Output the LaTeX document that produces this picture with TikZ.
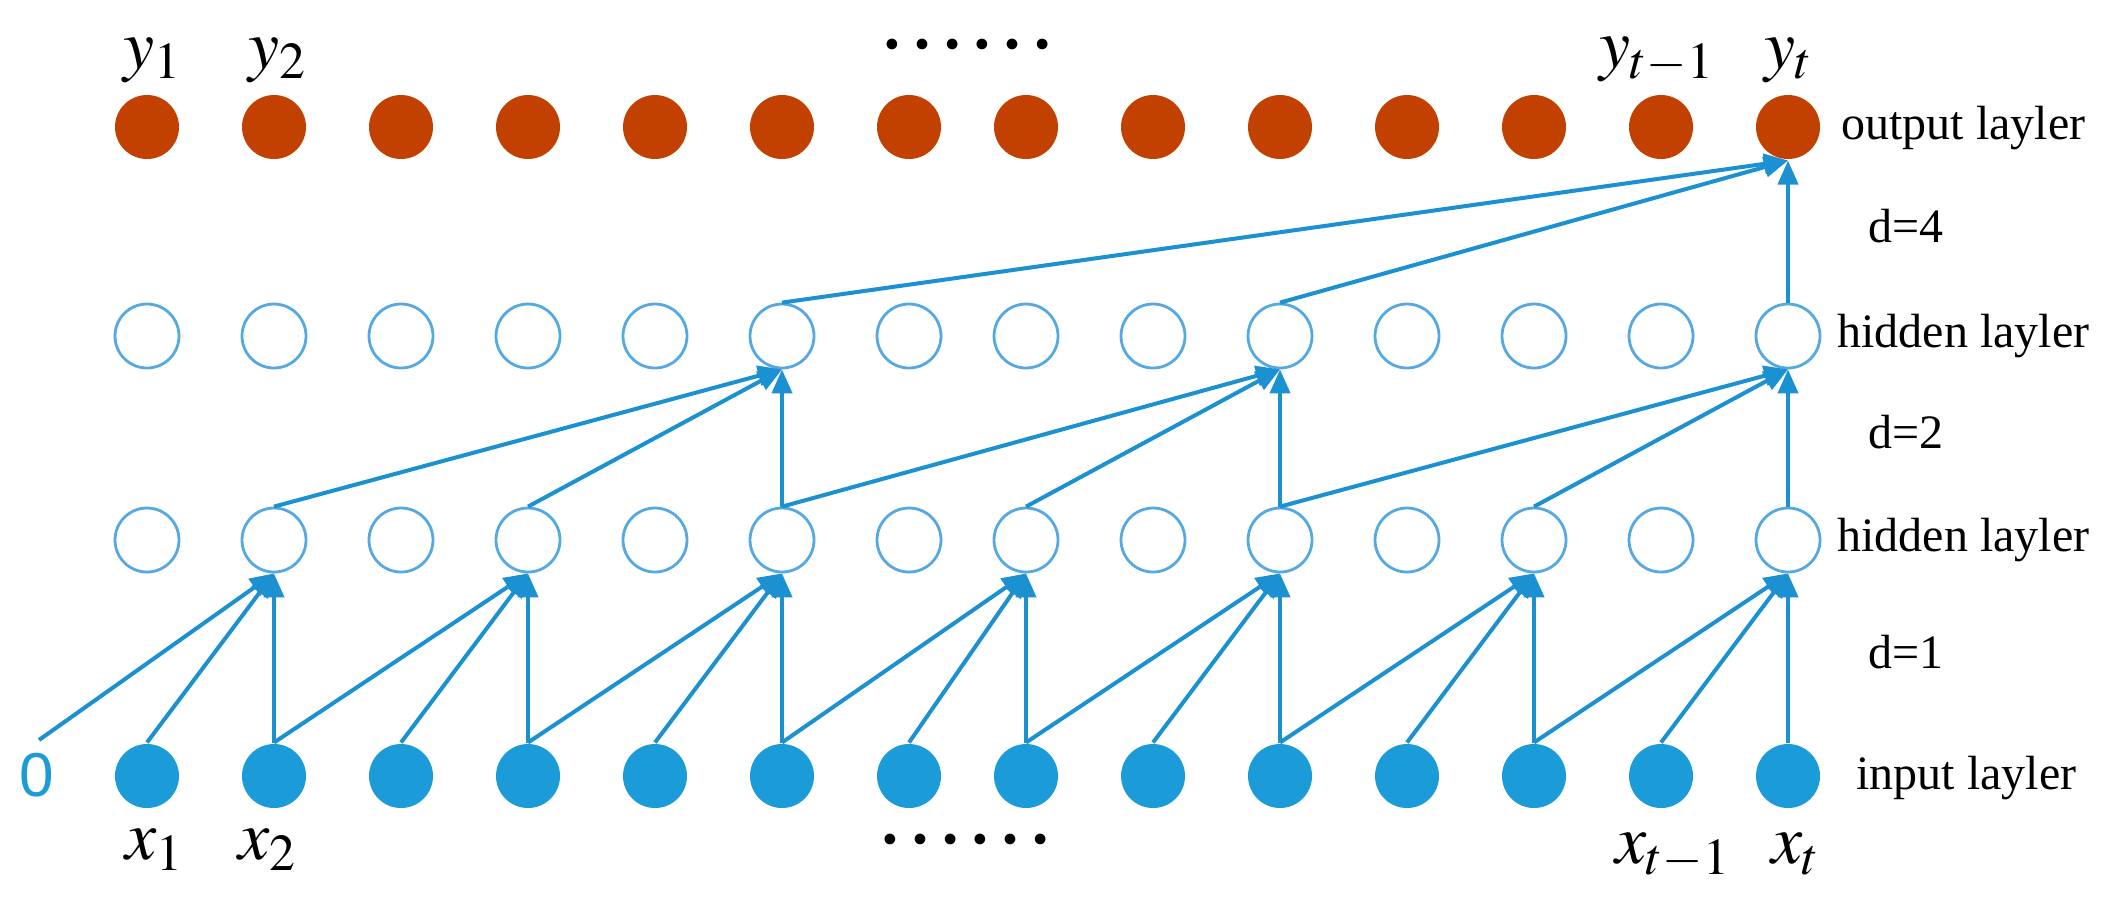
\documentclass[tikz,border=0pt]{standalone}
\usepackage{mathptmx}
\usepackage{fontspec}
\setmainfont{Liberation Serif}
\newfontfamily\zerofont{Liberation Sans}
\usetikzlibrary{arrows.meta}

\definecolor{outred}{RGB}{195,65,0}
\definecolor{inblue}{RGB}{27,155,215}
\definecolor{hidblue}{RGB}{85,168,225}
\definecolor{linkblue}{RGB}{28,145,210}

\tikzset{every picture/.style={line width=0.75pt}}

\begin{document}
\begin{tikzpicture}[x=0.25pt,y=0.25pt,yscale=-1,xscale=1,
  unit/.style={circle,minimum size=16pt,inner sep=0pt},
  outunit/.style={unit,fill=outred},
  inunit/.style={unit,fill=inblue},
  hidunit/.style={unit,draw=hidblue,line width=0.7pt,fill=white},
  link/.style={draw=linkblue,line width=1pt,-{Triangle[length=6pt,width=5pt]}},
  mathlab/.style={inner sep=0pt,font=\fontsize{17.5}{20}\selectfont},
  layerlab/.style={inner sep=0pt,anchor=west,font=\fontsize{12}{14}\selectfont},
  dlab/.style={inner sep=0pt,font=\fontsize{12}{14}\selectfont},
  dotlab/.style={inner sep=0pt,font=\fontsize{22.5}{24}\selectfont}]
\useasboundingbox (0,0) rectangle (2106,913);

% Units of the four layers
\foreach \i/\x in {1/147,2/274,3/401,4/528,5/655,6/782,7/909,8/1026,9/1153,10/1280,11/1407,12/1534,13/1661,14/1788} {
  \node[outunit] (out\i) at (\x,127) {};
  \node[hidunit] (hB\i) at (\x,336) {};
  \node[hidunit] (hA\i) at (\x,540) {};
  \node[inunit] (in\i) at (\x,776) {};
}

% Padding input
\node[text=inblue,inner sep=0pt,font=\zerofont\fontsize{15.5}{18}\selectfont] (zero) at (37,775) {0};
\coordinate (zerotop) at (39,740);

% d=1
\draw[link] (zerotop) -- (hA2.south);
\foreach \j in {2,4,...,14} {
  \pgfmathtruncatemacro\ja{\j-1}
  \draw[link] (in\ja.north) -- (hA\j.south);
  \draw[link] (in\j.north) -- (hA\j.south);
}
\foreach \j in {4,6,...,14} {
  \pgfmathtruncatemacro\jb{\j-2}
  \draw[link] (in\jb.north) -- (hA\j.south);
}
% d=2
\foreach \j in {6,10,14} {
  \pgfmathtruncatemacro\ja{\j-2}
  \pgfmathtruncatemacro\jb{\j-4}
  \draw[link] (hA\jb.north) -- (hB\j.south);
  \draw[link] (hA\ja.north) -- (hB\j.south);
  \draw[link] (hA\j.north) -- (hB\j.south);
}
% d=4
\foreach \j in {6,10,14} \draw[link] (hB\j.north) -- (out14.south);

% Text Node
\node[mathlab,anchor=south] (ly1) at (153,84) {$y_1$};
\node[mathlab,anchor=south] (ly2) at (278,84) {$y_2$};
\node[mathlab,anchor=south] (lyt1) at (1657,84) {$y_{t-1}$};
\node[mathlab,anchor=south] (lyt) at (1789,84) {$y_t$};
% Text Node
\node[mathlab,anchor=north] (lx1) at (155,828) {$x_1$};
\node[mathlab,anchor=north] (lx2) at (268,828) {$x_2$};
\node[mathlab,anchor=north] (lxt1) at (1673,832) {$x_{t-1}$};
\node[mathlab,anchor=north] (lxt) at (1796,832) {$x_t$};
% Text Node
\node[dotlab] (topdots) at (967,44) {……};
\node[dotlab] (botdots) at (965,839) {……};
% Text Node
\node[layerlab] (lout) at (1840,128) {output layler};
\node[layerlab] (lhB) at (1836,336) {hidden layler};
\node[layerlab] (lhA) at (1836,540) {hidden layler};
\node[layerlab] (lin) at (1855,778) {input layler};
\node[dlab] (d4) at (1906,226) {d=4};
\node[dlab] (d2) at (1906,432) {d=2};
\node[dlab] (d1) at (1906,652) {d=1};

\end{tikzpicture}
\end{document}
